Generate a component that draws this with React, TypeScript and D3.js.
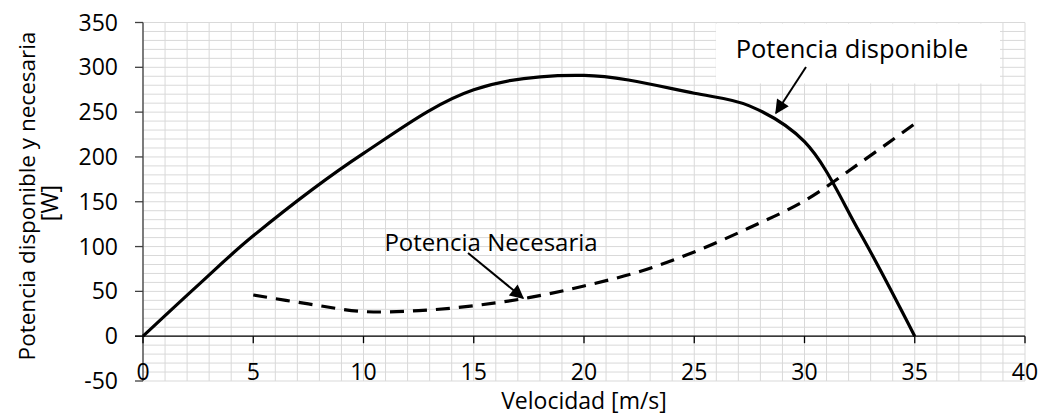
import * as d3 from "d3";

// Potencia disponible (solid curve), velocity [m/s] vs power [W]
const dispVel = [0, 2.5, 5, 10, 15, 20, 25, 27.5, 30, 32.5, 35];
const dispPow = [0, 57, 112, 204, 275, 291, 271, 257, 217, 116, 0];

// Potencia necesaria (dashed curve)
const necVel = [5, 7.5, 10, 12.5, 15, 17.5, 20, 22.5, 25, 27.5, 30, 32.5, 35];
const necPow = [46, 36, 27.5, 28.5, 34, 43, 56, 72, 94, 121, 151, 193, 237];

const xTicks = [0, 5, 10, 15, 20, 25, 30, 35, 40];
const yTicks = [-50, 0, 50, 100, 150, 200, 250, 300, 350];

const W = 1042;
const H = 416;
const FONT = "'Open Sans', sans-serif";

export default function App() {
  const x = d3.scaleLinear().domain([0, 40]).range([143, 1025]);
  const y = d3.scaleLinear().domain([-50, 350]).range([381, 22.5]);

  const disp = dispVel.map((v, i) => ({ v, p: dispPow[i] }));
  const nec = necVel.map((v, i) => ({ v, p: necPow[i] }));

  const line = d3
    .line<{ v: number; p: number }>()
    .x((d) => x(d.v))
    .y((d) => y(d.p))
    .curve(d3.curveCatmullRom.alpha(0.5));

  const vGrid = d3.range(0, 41, 1);
  const hGrid = d3.range(-50, 351, 10);

  return (
    <svg
      width={W}
      height={H}
      viewBox={`0 0 ${W} ${H}`}
      style={{ position: "absolute", left: 0, top: 0, background: "#fff" }}
      fontFamily={FONT}
    >
      <defs>
        <marker
          id="arrow"
          viewBox="0 0 10 10"
          refX={9}
          refY={5}
          markerWidth={7.5}
          markerHeight={7}
          orient="auto"
          markerUnits="strokeWidth"
        >
          <path d="M0,0 L10,5 L0,10 z" fill="#000" />
        </marker>
      </defs>

      {/* Grid */}
      <g stroke="#d9d9d9" strokeWidth={1}>
        {vGrid.map((g) => (
          <line key={`v${g}`} x1={x(g)} x2={x(g)} y1={y(350)} y2={y(-50)} />
        ))}
        {hGrid.map((g) => (
          <line key={`h${g}`} x1={x(0)} x2={x(40)} y1={y(g)} y2={y(g)} />
        ))}
      </g>

      {/* White box behind the upper label */}
      <rect x={716} y={y(350) + 1} width={284} height={60} fill="#fff" />

      {/* Y axis */}
      <line x1={x(0)} x2={x(0)} y1={y(350)} y2={y(-50)} stroke="#404040" strokeWidth={1.3} />
      {yTicks.map((t) => (
        <g key={`yt${t}`}>
          <line x1={x(0) - 8} x2={x(0)} y1={y(t)} y2={y(t)} stroke="#404040" strokeWidth={1.3} />
          <text x={118} y={y(t)} dy="0.35em" textAnchor="end" fontSize={23} fill="#000">
            {t}
          </text>
        </g>
      ))}

      {/* X axis at y = 0 */}
      <line x1={x(0) - 8} x2={x(40)} y1={y(0)} y2={y(0)} stroke="#000" strokeWidth={1.3} />
      {xTicks.map((t) => (
        <g key={`xt${t}`}>
          <line x1={x(t)} x2={x(t)} y1={y(0)} y2={y(0) + 7} stroke="#000" strokeWidth={1.3} />
          <text x={x(t)} y={380} textAnchor="middle" fontSize={23} fill="#000">
            {t}
          </text>
        </g>
      ))}

      {/* Series */}
      <path d={line(disp) ?? ""} fill="none" stroke="#000" strokeWidth={3.2} />
      <path
        d={line(nec) ?? ""}
        fill="none"
        stroke="#000"
        strokeWidth={3.2}
        strokeDasharray="14 9"
      />

      {/* Annotations */}
      <text x={852} y={58} textAnchor="middle" fontSize={25.5} fill="#000">
        Potencia disponible
      </text>
      <line x1={806} y1={67} x2={776} y2={113} stroke="#000" strokeWidth={2} markerEnd="url(#arrow)" />

      <text x={491} y={251} textAnchor="middle" fontSize={24} fill="#000">
        Potencia Necesaria
      </text>
      <line x1={468} y1={253} x2={523} y2={298} stroke="#000" strokeWidth={2} markerEnd="url(#arrow)" />

      {/* Axis titles */}
      <text x={584} y={409} textAnchor="middle" fontSize={23} fill="#000">
        Velocidad [m/s]
      </text>
      <text
        transform="translate(35,196) rotate(-90)"
        textAnchor="middle"
        fontSize={22.5}
        fill="#000"
      >
        Potencia disponible y necesaria
      </text>
      <text
        transform="translate(58,203) rotate(-90)"
        textAnchor="middle"
        fontSize={23}
        fill="#000"
      >
        [W]
      </text>
    </svg>
  );
}
